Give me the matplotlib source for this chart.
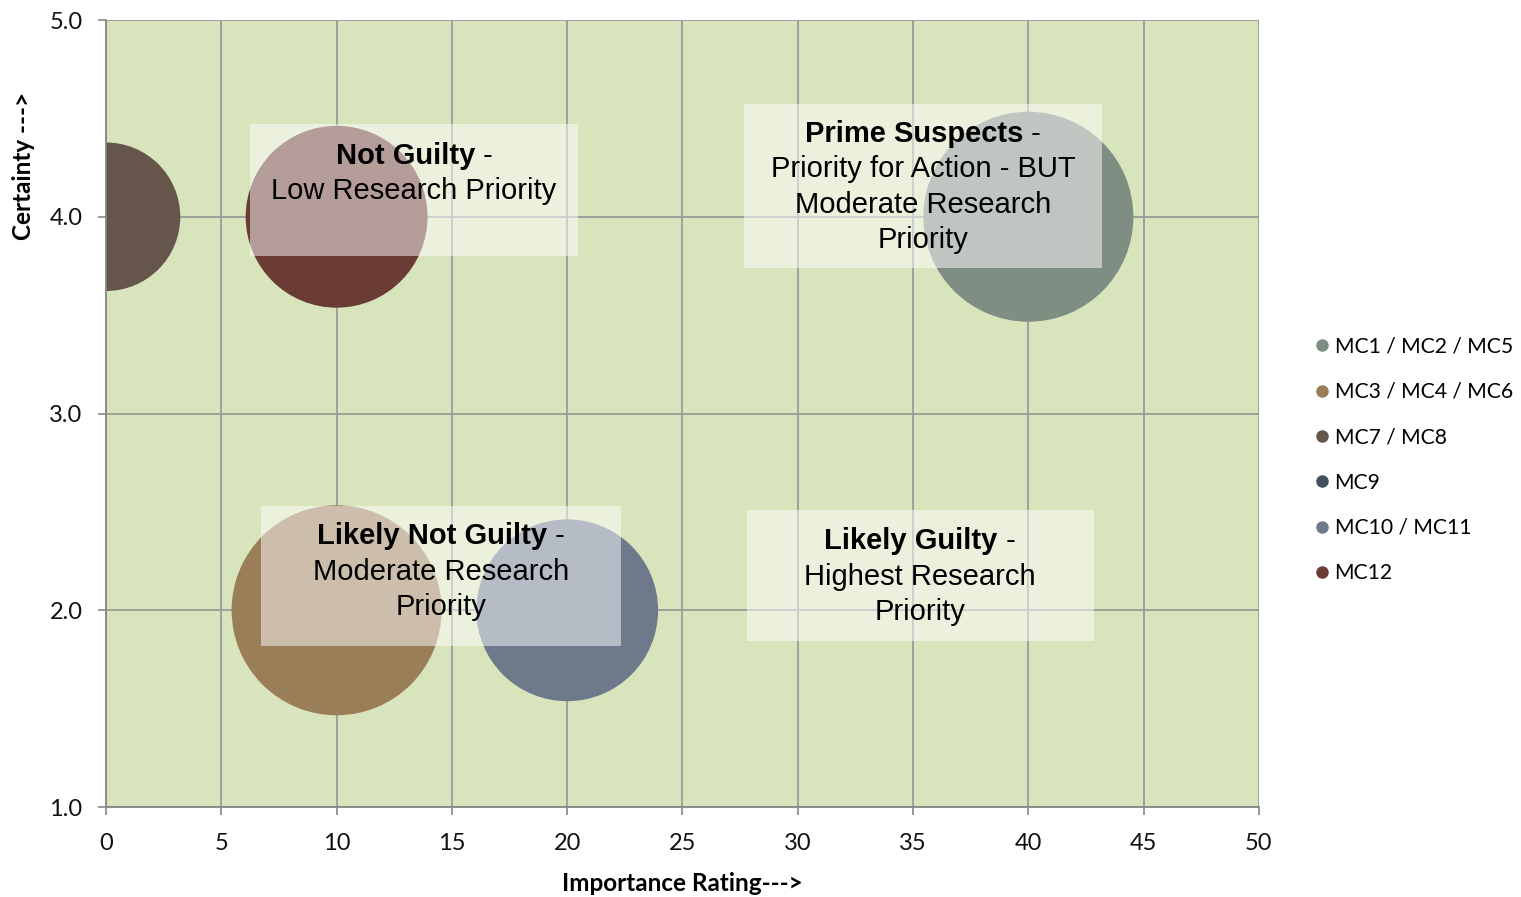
import matplotlib
matplotlib.use("Agg")
import matplotlib.pyplot as plt
from matplotlib.lines import Line2D
from matplotlib.patches import Rectangle
from matplotlib.offsetbox import TextArea, HPacker, AnnotationBbox

# Series data
series_names = ["MC1 / MC2 / MC5", "MC3 / MC4 / MC6", "MC7 / MC8", "MC9", "MC10 / MC11", "MC12"]
importance = [40, 10, 0, 20, 20, 10]
certainty = [4.0, 2.0, 4.0, 2.0, 2.0, 4.0]
bubble_size = [4, 4, 2, 2, 3, 3]
series_colors = ["#7f8e83", "#9a7e58", "#65554b", "#424f5d", "#6e798b", "#6a3c34"]

x_ticks = [0, 5, 10, 15, 20, 25, 30, 35, 40, 45, 50]
y_ticks = [1.0, 2.0, 3.0, 4.0, 5.0]

TICK_FONT = "Lato"
BOX_FONT = "Liberation Sans"

fig = plt.figure(figsize=(15.21, 8.97), dpi=100)
ax = fig.add_axes([0.0697, 0.1003, 0.7580, 0.8774])
ax.set_facecolor("#d8e4bc")

SIZE_SCALE = 5715.0
for x, y, s, c in zip(importance, certainty, bubble_size, series_colors):
    ax.scatter([x], [y], s=s * SIZE_SCALE, color=c, edgecolors="none", zorder=2)

ax.set_xlim(0, 50)
ax.set_ylim(1.0, 5.0)
ax.set_xticks(x_ticks)
ax.set_yticks(y_ticks)
ax.set_xticklabels([str(t) for t in x_ticks], fontname=TICK_FONT, fontsize=17)
ax.set_yticklabels([f"{t:.1f}" for t in y_ticks], fontname=TICK_FONT, fontsize=17)
ax.tick_params(direction="out", length=6, width=1.2, color="#868686",
               labelcolor="#111111")
ax.tick_params(axis="x", pad=13)
ax.tick_params(axis="y", pad=11)
ax.grid(True, color="#9a9a9a", linewidth=1.3, zorder=1)
ax.set_axisbelow(True)
for side in ["top", "right"]:
    ax.spines[side].set_visible(False)
for side in ["left", "bottom"]:
    ax.spines[side].set_color("#868686")
    ax.spines[side].set_linewidth(1.3)

ax.set_xlabel("Importance Rating--->", fontname=TICK_FONT, fontsize=17.5,
              fontweight="bold", labelpad=13)
ax.set_ylabel("Certainty --->", fontname=TICK_FONT, fontsize=17.5,
              fontweight="bold")
ax.yaxis.set_label_coords(-0.0616, 0.8145)

# Quadrant annotation boxes: (x0, x1, y0, y1), text centre x, first line y, bold head, lines
boxes = [
    ((6.25, 20.47, 3.80, 4.471), 13.36, 4.311, "Not Guilty",
     ["Low Research Priority"]),
    ((27.67, 43.19, 3.74, 4.573), 35.43, 4.420, "Prime Suspects",
     ["Priority for Action - BUT", "Moderate Research", "Priority"]),
    ((6.72, 22.33, 1.818, 2.530), 14.53, 2.376, "Likely Not Guilty",
     ["Moderate Research", "Priority"]),
    ((27.80, 42.85, 1.844, 2.510), 35.30, 2.350, "Likely Guilty",
     ["Highest Research", "Priority"]),
]
BOX_FS = 21
PITCH = 25.4  # points between text lines
for (x0, x1, y0, y1), tx, ty, head, lines in boxes:
    ax.add_patch(Rectangle((x0, y0), x1 - x0, y1 - y0, facecolor="white",
                           alpha=0.5, edgecolor="none", zorder=3))
    head_box = HPacker(children=[
        TextArea(head, textprops=dict(fontname=BOX_FONT, fontsize=BOX_FS,
                                      fontweight="bold", color="black")),
        TextArea(" -", textprops=dict(fontname=BOX_FONT, fontsize=BOX_FS,
                                      color="black")),
    ], pad=0, sep=0, align="baseline")
    ab = AnnotationBbox(head_box, (tx, ty), frameon=False,
                        box_alignment=(0.5, 0.5), zorder=4, pad=0)
    ax.add_artist(ab)
    for i, line in enumerate(lines, start=1):
        ax.annotate(line, (tx, ty), xytext=(0, -PITCH * i),
                    textcoords="offset points", ha="center", va="center",
                    fontname=BOX_FONT, fontsize=BOX_FS, color="black", zorder=4)

handles = [Line2D([0], [0], marker="o", linestyle="none", markersize=9,
                  markerfacecolor=c, markeredgecolor="none")
           for c in series_colors]
fig.legend(handles, series_names, loc="center left",
           bbox_to_anchor=(0.858, 0.4872), frameon=False,
           prop=dict(family=TICK_FONT, size=15.2), labelspacing=1.2,
           handlelength=0.6, handletextpad=0.3, borderpad=0)

fig.savefig("out.png", dpi=100)
